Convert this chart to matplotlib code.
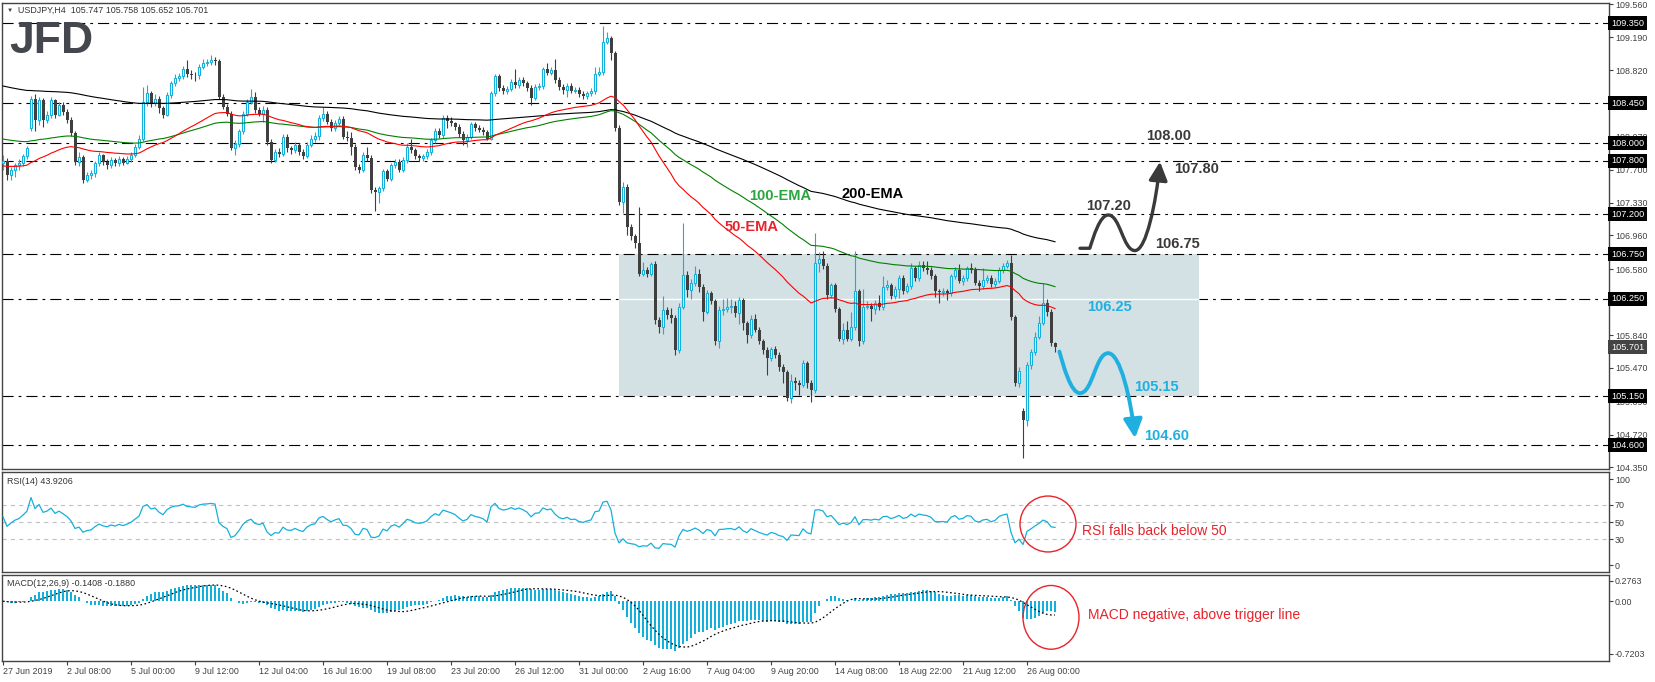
"""USDJPY H4 chart with EMAs, RSI and MACD panels (MT4 style)."""
import matplotlib
matplotlib.use("Agg")
import matplotlib.pyplot as plt
import numpy as np
import pandas as pd
from matplotlib.patches import Rectangle, Ellipse, FancyArrowPatch
from matplotlib.path import Path

plt.rcParams["font.family"] = ["Liberation Sans", "DejaVu Sans"]
plt.rcParams["lines.scale_dashes"] = False

# ---- data: USDJPY H4 candles, 27 Jun 16:00 -> 27 Aug 2019 (16 bars per row) ----
closes = [
    107.80, 107.64, 107.70, 107.75, 107.78, 107.85, 107.94, 108.50, 108.26, 108.48, 108.26, 108.32, 108.48, 108.32, 108.43, 108.35,
    108.26, 108.11, 107.79, 107.84, 107.58, 107.64, 107.66, 107.77, 107.86, 107.79, 107.75, 107.81, 107.77, 107.82, 107.78, 107.82,
    107.87, 107.96, 108.05, 108.46, 108.56, 108.45, 108.50, 108.39, 108.32, 108.54, 108.67, 108.73, 108.75, 108.83, 108.78, 108.77,
    108.76, 108.86, 108.90, 108.91, 108.93, 108.92, 108.52, 108.41, 108.33, 107.94, 107.99, 108.13, 108.33, 108.46, 108.52, 108.37,
    108.33, 108.37, 108.01, 107.81, 107.90, 107.88, 108.07, 107.94, 107.92, 107.98, 107.90, 107.85, 107.98, 108.05, 108.08, 108.28,
    108.33, 108.24, 108.17, 108.23, 108.27, 108.07, 108.06, 107.96, 107.73, 107.70, 107.87, 107.83, 107.47, 107.45, 107.49, 107.68,
    107.60, 107.75, 107.79, 107.70, 107.81, 107.96, 107.92, 107.85, 107.83, 107.85, 107.90, 108.03, 108.13, 108.09, 108.28, 108.25,
    108.22, 108.18, 108.10, 108.03, 108.07, 108.21, 108.17, 108.15, 108.12, 108.05, 108.56, 108.75, 108.62, 108.58, 108.61, 108.69,
    108.65, 108.71, 108.67, 108.62, 108.51, 108.63, 108.64, 108.83, 108.79, 108.82, 108.71, 108.63, 108.60, 108.64, 108.59, 108.60,
    108.55, 108.53, 108.56, 108.58, 108.78, 108.80, 109.14, 109.18, 109.01, 108.17, 107.34, 107.51, 107.06, 106.95, 106.87, 106.53,
    106.57, 106.53, 106.64, 106.01, 105.93, 106.12, 106.06, 106.03, 105.67, 106.16, 106.51, 106.35, 106.42, 106.53, 106.38, 106.10,
    106.31, 106.22, 105.77, 106.12, 106.13, 106.16, 106.17, 106.09, 106.23, 105.97, 105.84, 106.02, 105.90, 105.77, 105.67, 105.58,
    105.68, 105.62, 105.48, 105.42, 105.13, 105.32, 105.30, 105.28, 105.52, 105.30, 105.22, 106.65, 106.69, 106.62, 106.29, 106.40,
    106.13, 105.80, 105.90, 105.80, 105.93, 106.33, 105.77, 106.16, 106.17, 106.13, 106.20, 106.15, 106.38, 106.40, 106.28, 106.36,
    106.48, 106.34, 106.39, 106.59, 106.48, 106.63, 106.59, 106.57, 106.50, 106.33, 106.32, 106.33, 106.31, 106.50, 106.57, 106.45,
    106.48, 106.59, 106.57, 106.43, 106.39, 106.46, 106.48, 106.41, 106.45, 106.57, 106.62, 106.65, 106.04, 105.30, 105.43, 104.88,
    105.50, 105.65, 105.82, 105.98, 106.20, 106.10, 105.75, 105.701,
]
highs = [
    107.86, 107.83, 107.73, 107.78, 107.82, 107.88, 107.97, 108.53, 108.55, 108.52, 108.51, 108.36, 108.52, 108.50, 108.46, 108.46,
    108.38, 108.29, 108.14, 107.90, 107.87, 107.67, 107.70, 107.80, 107.90, 107.88, 107.82, 107.84, 107.83, 107.85, 107.84, 107.85,
    107.90, 107.99, 108.09, 108.63, 108.65, 108.59, 108.55, 108.53, 108.42, 108.57, 108.70, 108.78, 108.79, 108.87, 108.93, 108.82,
    108.80, 108.89, 108.94, 108.95, 108.99, 108.97, 108.95, 108.55, 108.44, 108.36, 108.03, 108.16, 108.36, 108.50, 108.61, 108.57,
    108.40, 108.42, 108.40, 108.04, 107.93, 107.94, 108.10, 108.10, 107.97, 108.01, 108.00, 107.93, 108.01, 108.09, 108.12, 108.31,
    108.40, 108.36, 108.27, 108.26, 108.30, 108.30, 108.14, 108.12, 107.99, 107.76, 107.90, 107.96, 107.86, 107.50, 107.52, 107.71,
    107.71, 107.78, 107.82, 107.82, 107.84, 108.00, 108.05, 107.94, 107.88, 107.88, 107.93, 108.06, 108.17, 108.17, 108.31, 108.31,
    108.29, 108.24, 108.21, 108.13, 108.10, 108.24, 108.24, 108.20, 108.18, 108.15, 108.59, 108.78, 108.78, 108.65, 108.64, 108.72,
    108.83, 108.74, 108.74, 108.70, 108.65, 108.66, 108.67, 108.86, 108.90, 108.85, 108.94, 108.74, 108.66, 108.67, 108.67, 108.63,
    108.63, 108.58, 108.59, 108.62, 108.85, 108.85, 109.32, 109.25, 109.20, 109.04, 108.20, 107.56, 107.54, 107.09, 106.98, 107.28,
    106.66, 106.60, 106.66, 106.67, 106.04, 106.28, 106.16, 106.14, 106.06, 106.20, 107.10, 106.56, 106.47, 106.62, 106.58, 106.41,
    106.35, 106.34, 106.25, 106.17, 106.24, 106.26, 106.25, 106.22, 106.27, 106.26, 106.00, 106.06, 106.08, 105.93, 105.80, 105.70,
    105.71, 105.72, 105.65, 105.51, 105.45, 105.40, 105.37, 105.33, 105.56, 105.55, 105.33, 106.99, 106.77, 106.78, 106.65, 106.43,
    106.43, 106.16, 105.97, 106.00, 106.10, 106.78, 106.36, 106.36, 106.22, 106.20, 106.23, 106.29, 106.50, 106.46, 106.43, 106.39,
    106.51, 106.51, 106.42, 106.65, 106.62, 106.67, 106.67, 106.67, 106.60, 106.53, 106.36, 106.37, 106.36, 106.53, 106.61, 106.64,
    106.52, 106.62, 106.65, 106.60, 106.46, 106.59, 106.52, 106.51, 106.48, 106.60, 106.65, 106.68, 106.74, 106.07, 105.48, 105.02,
    105.54, 105.68, 105.87, 106.05, 106.42, 106.25, 106.13, 105.758,
]
lows = [
    107.70, 107.58, 107.58, 107.62, 107.70, 107.74, 107.82, 108.14, 108.14, 108.20, 108.18, 108.22, 108.28, 108.28, 108.30, 108.31,
    108.22, 108.08, 107.75, 107.74, 107.55, 107.56, 107.60, 107.62, 107.74, 107.75, 107.71, 107.72, 107.74, 107.74, 107.75, 107.76,
    107.79, 107.84, 107.93, 108.02, 108.42, 108.40, 108.42, 108.34, 108.28, 108.30, 108.51, 108.64, 108.70, 108.72, 108.74, 108.72,
    108.70, 108.72, 108.83, 108.87, 108.88, 108.88, 108.50, 108.38, 108.30, 107.92, 107.86, 107.96, 108.10, 108.30, 108.44, 108.34,
    108.30, 108.24, 107.98, 107.78, 107.79, 107.84, 107.85, 107.90, 107.88, 107.89, 107.86, 107.82, 107.83, 107.95, 108.01, 108.03,
    108.25, 108.21, 108.14, 108.14, 108.20, 108.04, 108.02, 107.86, 107.70, 107.66, 107.67, 107.80, 107.44, 107.23, 107.33, 107.46,
    107.57, 107.57, 107.72, 107.67, 107.67, 107.78, 107.89, 107.82, 107.80, 107.80, 107.82, 107.87, 108.00, 108.06, 108.06, 108.17,
    108.19, 108.15, 108.07, 107.98, 107.96, 108.04, 108.14, 108.12, 108.09, 108.03, 108.03, 108.53, 108.59, 108.55, 108.55, 108.58,
    108.62, 108.62, 108.64, 108.59, 108.43, 108.48, 108.60, 108.61, 108.76, 108.76, 108.68, 108.60, 108.55, 108.52, 108.56, 108.56,
    108.52, 108.50, 108.50, 108.53, 108.55, 108.75, 108.77, 109.11, 108.93, 108.14, 107.30, 107.21, 106.97, 106.91, 106.82, 106.50,
    106.50, 106.49, 106.50, 105.96, 105.86, 105.85, 106.02, 105.98, 105.62, 105.64, 106.13, 106.27, 106.24, 106.39, 106.32, 106.00,
    106.08, 106.19, 105.73, 105.69, 106.07, 106.10, 106.09, 106.04, 105.96, 105.90, 105.75, 105.81, 105.87, 105.74, 105.63, 105.39,
    105.55, 105.58, 105.44, 105.30, 105.10, 105.08, 105.22, 105.17, 105.25, 105.24, 105.09, 105.19, 106.55, 106.58, 106.25, 106.26,
    106.10, 105.77, 105.74, 105.77, 105.77, 105.90, 105.72, 105.74, 106.13, 106.00, 106.08, 106.12, 106.12, 106.35, 106.25, 106.25,
    106.26, 106.30, 106.31, 106.36, 106.45, 106.45, 106.56, 106.53, 106.47, 106.27, 106.20, 106.28, 106.23, 106.28, 106.47, 106.42,
    106.40, 106.45, 106.54, 106.40, 106.33, 106.36, 106.42, 106.38, 106.38, 106.42, 106.54, 106.59, 106.01, 105.27, 105.26, 104.46,
    104.82, 105.46, 105.62, 105.79, 105.95, 106.05, 105.72, 105.652,
]
first_open = 107.78
gap_opens = {7: 108.17, 255: 104.99, 263: 105.747}       # opens that differ from prior close
ema_start = {50: 107.74, 100: 108.05, 200: 108.65}      # EMA values at left edge of chart
rsi_start_gain, rsi_start_loss = 0.028, 0.022           # Wilder averages before first bar (RSI ~56)

levels = [109.35, 108.45, 108.00, 107.80, 107.20, 106.75, 106.25, 105.15, 104.60]
price_ticks = [109.560, 109.190, 108.820, 108.070, 107.700, 107.330, 106.960,
               106.580, 106.210, 105.840, 105.470, 105.090, 104.720, 104.350]
rsi_levels = [70, 50, 30]
rsi_ticks = [100, 70, 50, 30, 0]
macd_ticks = [0.2763, 0.00, -0.7203]
date_labels = ["27 Jun 2019", "2 Jul 08:00", "5 Jul 00:00", "9 Jul 12:00", "12 Jul 04:00",
               "16 Jul 16:00", "19 Jul 08:00", "23 Jul 20:00", "26 Jul 12:00", "31 Jul 00:00",
               "2 Aug 16:00", "7 Aug 04:00", "9 Aug 20:00", "14 Aug 08:00", "18 Aug 22:00",
               "21 Aug 12:00", "26 Aug 00:00"]
bars_per_label = 16
range_bars = (154, 299)
range_prices = (105.15, 106.75)

# ---- palette ----
CYAN = "#14b0dc"
DARK = "#3f3f3f"
RED = "#e8232b"
GREEN = "#008000"
TXT = "#404040"
ANN = "#3a3a3a"
ANN_C = "#1fb0e0"
BOX = "#d3e0e4"

W, H = 1655, 682
fig = plt.figure(figsize=(W / 100, H / 100), dpi=100)
fig.patch.set_facecolor("white")


def panel(top, bottom):
    a = fig.add_axes([2 / W, 1 - bottom / H, 1607 / W, (bottom - top) / H])
    for s in a.spines.values():
        s.set_color("#444444")
        s.set_linewidth(1.0)
    a.yaxis.tick_right()
    a.tick_params(axis="y", direction="out", length=3, width=0.8, colors=TXT,
                  labelsize=6.4, pad=1.2)
    a.set_xlim(-0.25, 401.5)
    return a


ax = panel(3, 469)
ax_rsi = panel(471.7, 572)
ax_macd = panel(574.5, 661)

# ---- indicators ----
c = pd.Series(closes)
x = np.arange(len(closes))
opens = [first_open] + closes[:-1]
for i, v in gap_opens.items():
    opens[i] = v
o = np.array(opens)
cl = np.array(closes)
hi = np.array(highs)
lo = np.array(lows)


def ema(span):
    s = pd.Series([ema_start[span]] + closes)
    return s.ewm(span=span, adjust=False).mean().values[1:]


d = c.diff()
g = d.clip(lower=0)
ls_ = -d.clip(upper=0)
g.iloc[0], ls_.iloc[0] = rsi_start_gain, rsi_start_loss
gain = g.ewm(alpha=1 / 14, adjust=False).mean()
loss = ls_.ewm(alpha=1 / 14, adjust=False).mean()
rsi = 100 - 100 / (1 + gain / loss)
macd = c.ewm(span=12, adjust=False).mean() - c.ewm(span=26, adjust=False).mean()
signal = macd.rolling(9, min_periods=1).mean()

# ---- main price panel ----
ax.set_ylim(104.333, 109.575)
ax.set_xticks([])
ax.add_patch(Rectangle((range_bars[0], range_prices[0]), range_bars[1] - range_bars[0],
                       range_prices[1] - range_prices[0], fc=BOX, ec="none", zorder=1))
for lv in levels:
    ax.axhline(lv, color="black", lw=0.8, ls=(0, (8, 3.6, 2, 3.6)),
               zorder=0.5 if lv == 106.25 else 1.5)
ax.hlines(106.25, range_bars[0], range_bars[1], color="white", lw=1.0, zorder=1.2)

up = cl >= o
ax.vlines(x[up], lo[up], hi[up], color=CYAN, lw=0.8, zorder=3)
ax.vlines(x[~up], lo[~up], hi[~up], color=DARK, lw=0.8, zorder=3)
body = np.maximum(np.abs(cl - o), 0.006)
base = np.minimum(cl, o)
ax.bar(x[up], body[up], bottom=base[up], width=0.5, fc="white", ec=CYAN, lw=0.8, zorder=4)
ax.bar(x[~up], body[~up], bottom=base[~up], width=0.75, color=DARK, lw=0, zorder=4)

ax.plot(x, ema(200), color="black", lw=0.8, zorder=5)
ax.plot(x, ema(100), color=GREEN, lw=0.8, zorder=5)
ax.plot(x, ema(50), color="#ff0000", lw=0.8, zorder=5)

ax.set_yticks(price_ticks)
ax.set_yticklabels([f"{v:.3f}" for v in price_ticks])
for lv in levels:
    ax.text(1 + 2 / 1607, lv, f"{lv:.3f}", transform=ax.get_yaxis_transform(), ha="left",
            va="center", fontsize=6.6, color="white", clip_on=False, zorder=10,
            bbox=dict(boxstyle="square,pad=0.28", fc="black", ec="none"))
ax.text(1 + 2 / 1607, closes[-1], f"{closes[-1]:.3f}", transform=ax.get_yaxis_transform(),
        ha="left", va="center", fontsize=6.6, color="white", clip_on=False, zorder=10,
        bbox=dict(boxstyle="square,pad=0.28", fc="#444444", ec="none"))

# EMA labels
ax.text(194.25, 107.404, "100-EMA", color="#2aa640", fontsize=10.5, fontweight="bold",
        ha="center", va="center", zorder=6)
ax.text(217.5, 107.427, "200-EMA", color="black", fontsize=10.5, fontweight="bold",
        ha="center", va="center", zorder=6)
ax.text(187.25, 107.055, "50-EMA", color=RED, fontsize=10.5, fontweight="bold",
        ha="center", va="center", zorder=6)

# scenario labels
for bx, py, s, col in [(291.3, 108.081, "108.00", ANN), (298.4, 107.708, "107.80", ANN),
                       (276.5, 107.294, "107.20", ANN), (293.75, 106.864, "106.75", ANN),
                       (276.75, 106.15, "106.25", ANN_C), (288.4, 105.25, "105.15", ANN_C),
                       (290.9, 104.704, "104.60", ANN_C)]:
    ax.text(bx, py, s, color=col, fontsize=10.5, fontweight="bold", ha="center",
            va="center", zorder=6)


def squiggle(pts, lead=None):
    verts, codes = [], []
    if lead:
        verts += [lead, pts[0]]
        codes += [Path.MOVETO, Path.LINETO]
    else:
        verts += [pts[0]]
        codes += [Path.MOVETO]
    n = len(pts) - 1
    for k in range(n):
        (x0, y0), (x1, y1) = pts[k], pts[k + 1]
        dx, dy = x1 - x0, y1 - y0
        c1 = (x0 + 0.45 * dx, y0) if k > 0 else (x0 + 0.2 * dx, y0 + 0.35 * dy)
        c2 = (x1 - 0.45 * dx, y1) if k < n - 1 else (x1 - 0.15 * dx, y1 - 0.45 * dy)
        verts += [c1, c2, (x1, y1)]
        codes += [Path.CURVE4] * 3
    return Path(verts, codes)


up_path = squiggle([(271.7, 106.816), (276.3, 107.19), (283, 106.79), (289.25, 107.79)],
                   lead=(269.25, 106.816))
dn_path = squiggle([(264.1, 105.654), (269.25, 105.186), (276.3, 105.636), (283, 104.68)])
ax.add_patch(FancyArrowPatch(path=up_path, arrowstyle="-|>,head_length=0.7,head_width=0.35",
                             mutation_scale=16, lw=2.4, color=ANN, zorder=6))
ax.add_patch(FancyArrowPatch(path=dn_path, arrowstyle="-|>,head_length=0.7,head_width=0.35",
                             mutation_scale=16, lw=2.8, color=ANN_C, zorder=6))

# ---- RSI panel ----
ax_rsi.set_ylim(-8.1, 108.5)
ax_rsi.set_xticks([])
for lv in rsi_levels:
    ax_rsi.axhline(lv, color="#c0c0c0", lw=0.8, ls=(0, (3, 3)), zorder=1)
ax_rsi.plot(x, rsi, color=CYAN, lw=0.9, zorder=3)
ax_rsi.set_yticks(rsi_ticks)
ax_rsi.set_yticklabels([str(v) for v in rsi_ticks])
ax_rsi.add_patch(Ellipse((261.25, 47.7), 14, 65, fill=False, ec=RED, lw=1.0, zorder=4))
ax_rsi.text(269.75, 39.5, "RSI falls back below 50", color=RED, fontsize=10,
            ha="left", va="center")

# ---- MACD panel ----
ax_macd.set_ylim(-0.816, 0.365)
ax_macd.bar(x, macd, width=0.35, color=CYAN, lw=0, zorder=2)
ax_macd.plot(x, signal, color="black", lw=0.9, ls=(0, (1.2, 1.8)), zorder=3)
ax_macd.set_yticks(macd_ticks)
ax_macd.set_yticklabels(["0.2763", "0.00", "-0.7203"])
ax_macd.add_patch(Ellipse((262, -0.22), 14, 0.87, fill=False, ec=RED, lw=1.0, zorder=4))
ax_macd.text(271.25, -0.19, "MACD negative, above trigger line", color=RED, fontsize=10,
             ha="left", va="center")
ax_macd.set_xticks(np.arange(len(date_labels)) * bars_per_label)
ax_macd.set_xticklabels(date_labels)
ax_macd.tick_params(axis="x", direction="out", length=3, width=0.8, colors=TXT,
                    labelsize=6.4, pad=1.5)
for lab in ax_macd.get_xticklabels():
    lab.set_horizontalalignment("left")

# ---- header texts ----
fig.text(7 / W, 1 - 10.7 / H, "▼", fontsize=4.5, color=TXT, va="center")
fig.text(18 / W, 1 - 10.7 / H, "USDJPY,H4  105.747 105.758 105.652 105.701",
         fontsize=6.4, color="#333333", va="center")
fig.text(7 / W, 1 - 481 / H, "RSI(14) 43.9206", fontsize=6.4, color="#333333", va="center")
fig.text(7 / W, 1 - 583 / H, "MACD(12,26,9) -0.1408 -0.1880", fontsize=6.4,
         color="#333333", va="center")
fig.text(9 / W, 1 - 53 / H, "JFD", fontsize=32, fontweight="bold", color="#45474e",
         va="baseline", ha="left")

fig.savefig("out.png", dpi=100, facecolor="white")
